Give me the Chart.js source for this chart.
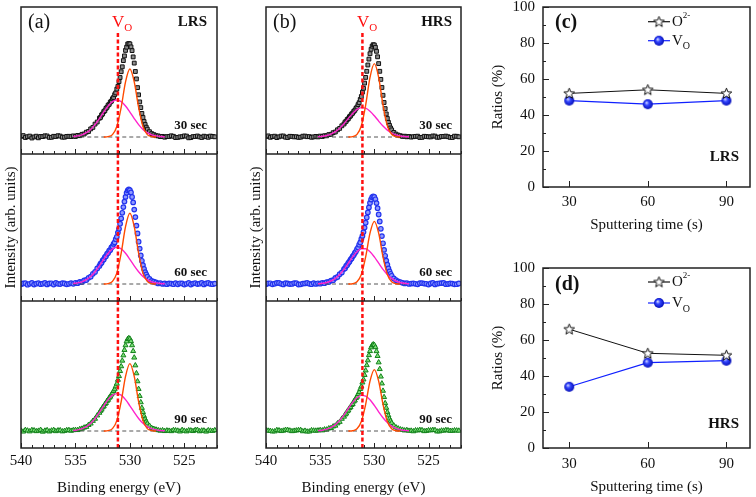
<!DOCTYPE html>
<html>
<head>
<meta charset="utf-8">
<script src="https://cdn.jsdelivr.net/npm/chart.js@4.4.1/dist/chart.umd.min.js"></script>
<style>
  html, body { margin: 0; padding: 0; background: #fff; }
  body { position: relative; width: 756px; height: 497px; overflow: hidden; }
  canvas { position: absolute; }
</style>
</head>
<body>
<canvas id="a1" width="230" height="154" style="left:0px;top:0px"></canvas>
<canvas id="a2" width="230" height="147" style="left:0px;top:154px"></canvas>
<canvas id="a3" width="230" height="196" style="left:0px;top:301px"></canvas>
<canvas id="b1" width="230" height="154" style="left:245px;top:0px"></canvas>
<canvas id="b2" width="230" height="147" style="left:245px;top:154px"></canvas>
<canvas id="b3" width="230" height="196" style="left:245px;top:301px"></canvas>
<canvas id="c" width="276" height="234" style="left:480px;top:0px"></canvas>
<canvas id="d" width="276" height="235" style="left:480px;top:261px"></canvas>
<script>
// O 1s spectra, energies in eV (x grid shared by all six spectra)
const bindingEnergy = [
  540, 539.8, 539.6, 539.4, 539.2, 539, 538.8, 538.6, 538.4, 538.2, 538, 537.8,
  537.6, 537.4, 537.2, 537, 536.8, 536.6, 536.4, 536.2, 536, 535.8, 535.6,
  535.4, 535.2, 535, 534.8, 534.6, 534.4, 534.2, 534, 533.8, 533.6, 533.4, 533.2, 533,
  532.8, 532.7, 532.6, 532.5, 532.4, 532.3, 532.2, 532.1, 532, 531.9,
  531.8, 531.7, 531.6, 531.5, 531.4, 531.3, 531.2, 531.1, 531, 530.9,
  530.8, 530.7, 530.6, 530.5, 530.4, 530.3, 530.2, 530.1, 530, 529.9,
  529.8, 529.7, 529.6, 529.5, 529.4, 529.3, 529.2, 529.1, 529, 528.9,
  528.8, 528.7, 528.6, 528.5, 528.4,
  528.2, 528, 527.8, 527.6, 527.4, 527.2, 527, 526.8, 526.6,
  526.4, 526.2, 526, 525.8, 525.6, 525.4, 525.2, 525, 524.8, 524.6, 524.4,
  524.2, 524, 523.8, 523.6, 523.4, 523.2, 523, 522.8, 522.6, 522.4, 522.2
];
const voEnergy = 531.1;
const backgroundRange = [535.2, 526.8];
const energyTicks = [540, 535, 530, 525];

const lrs30 = [
  0.6, 1.4, -0.5, 0.3, 0.9, -1.0, 0.1, 0.8, -0.8, 0.5, 0.4, 1.2,
  1.0, -0.4, -0.3, 0.7, 0.5, 1.3, 0.9, -0.2, -0.2, 0.6, 0.7,
  0.4, 1.1, 0.5, 1.6, 1.3, 2.7, 3.0, 4.8, 5.5, 8.1, 9.6, 12.9, 15.0,
  18.8, 19.6, 22.0, 23.1, 25.4, 26.3, 28.6, 29.7, 31.8, 32.7,
  34.9, 35.8, 38.2, 39.5, 42.3, 44.1, 47.9, 50.7, 55.4, 59.5,
  65.3, 70.2, 76.4, 81.1, 86.6, 89.8, 93.0, 93.4, 93.1, 90.1,
  86.4, 80.1, 73.9, 65.5, 58.1, 49.4, 42.2, 35.1, 29.4, 23.6,
  19.5, 15.5, 12.5, 9.8, 7.8,
  5.3, 3.4, 2.4, 1.3, 1.1, 0.4, 0.6, -0.2, 0.4,
  0.5, 1.2, 0.7, -0.6, -0.4, 0.2, 0.3, 1.1, 0.9, -0.8, -0.6,
  0.4, 0.5, 1.0, 0.1, -0.5, 0.8, 0.3, -0.3, 0.9, 0.6, 0.2
];
const lrs60 = [
  -0.3, 0.5, 0.8, -0.7, 0.2, 1.1, -0.6, 0.3, 0.9, -0.2, 0.3, 1.0,
  -0.4, 0.6, 0.7, -0.5, 1.1, 0.2, -0.1, 0.9, 0.5, -0.3, 0.2,
  0.9, 0.2, 1.2, 0.8, 2.0, 1.9, 3.5, 4.0, 6.2, 7.3, 10.2, 12.1, 15.6,
  18.1, 20.3, 21.2, 23.7, 24.6, 26.9, 27.8, 30.2, 31.0, 33.3,
  34.1, 36.5, 37.5, 40.1, 41.6, 44.8, 47.2, 51.4, 55.2, 60.3,
  65.6, 71.2, 76.9, 82.4, 87.1, 91.2, 93.6, 94.6, 93.9, 91.6,
  87.0, 81.6, 74.4, 66.9, 58.4, 50.6, 42.3, 35.4, 28.5, 23.2,
  18.9, 15.0, 11.9, 9.5, 7.4,
  5.0, 3.1, 2.3, 1.5, 0.6, 0.9, 0.1, 0.5, -0.2,
  0.6, 0.4, -0.2, 0.9, -0.3, 0.7, 0.5, -0.6, 0.2, 1.0, -0.5,
  0.4, 0.8, -0.1, 0.3, 1.1, -0.4, 0.6, 1.0, 0.1, -0.2, 0.4
];
const lrs90 = [
  0.3, -0.6, 1.0, 0.4, -0.4, 0.9, 0.6, -0.2, 0.2, 1.1, -0.7, 0.3,
  0.8, -0.5, 0.4, 1.0, -0.2, 0.6, 0.7, -0.4, 0.1, 0.8, 0.9,
  0.2, 0.8, 1.0, 0.9, 1.9, 2.3, 3.4, 4.1, 6.0, 7.4, 10.1, 12.2, 15.5,
  18.2, 20.2, 21.4, 23.6, 24.7, 26.8, 28.0, 30.1, 31.2, 33.2,
  34.3, 36.4, 37.7, 40.0, 41.7, 44.6, 47.3, 51.2, 54.9, 59.9,
  64.7, 70.3, 75.6, 81.0, 85.7, 89.6, 92.0, 92.8, 92.2, 89.8,
  85.7, 79.9, 73.4, 65.6, 57.7, 49.7, 42.0, 35.0, 28.7, 23.1,
  18.9, 15.0, 12.0, 9.4, 7.5,
  5.2, 3.0, 2.1, 1.4, 0.8, 0.3, 0.7, -0.1, 0.5,
  0.2, -0.2, 0.9, 0.6, 0.3, -0.5, 1.0, 0.2, -0.4, 0.7, 0.5,
  -0.1, 0.9, 1.1, -0.3, 0.4, 0.4, -0.6, 0.7, 0.3, 0.1, 0.8
];
const hrs30 = [
  0.5, 1.1, -0.3, 0.4, 0.8, -0.6, 0.2, 0.9, 1.0, -0.2, -0.5, 0.7,
  0.6, 0.1, 0.3, -0.4, -0.2, 0.8, 0.9, 0.3, 0.4, -0.3, 0.1,
  0.6, 0.1, 0.9, 0.5, 1.3, 1.2, 2.4, 2.7, 4.3, 5.0, 7.2, 8.6, 11.2,
  13.0, 14.9, 15.7, 17.5, 18.3, 20.2, 21.1, 22.9, 23.8, 25.6,
  26.7, 28.6, 30.0, 32.4, 34.3, 37.5, 40.5, 44.8, 48.7, 53.9,
  59.6, 65.7, 72.0, 77.9, 83.3, 87.7, 90.8, 92.3, 92.0, 89.7,
  85.7, 80.2, 73.4, 65.7, 57.6, 49.5, 41.7, 34.5, 28.4, 23.1,
  18.5, 14.6, 11.6, 9.0, 7.1,
  4.6, 2.9, 1.9, 1.3, 0.6, 0.8, 0.2, 0.5, -0.1,
  0.3, 0.6, 0.8, -0.5, -0.4, 0.7, 0.5, 0.2, 0.1, 1.0, 0.9,
  -0.3, -0.2, 0.5, 0.6, 0.9, 0.3, -0.4, -0.5, 0.8, 0.7, 0.2
];
const hrs60 = [
  -0.2, 0.6, 0.7, -0.3, 0.3, 1.1, 1.0, 0.2, -0.4, 0.8, 0.5, -0.1,
  0.1, 0.9, 0.8, -0.5, -0.3, 0.4, 0.6, 1.0, 0.2, -0.2, 0.9,
  0.1, 0.7, 0.3, 1.1, 0.8, 1.9, 2.0, 3.4, 3.8, 6.0, 7.0, 9.8, 11.6,
  14.9, 15.8, 18.0, 19.0, 21.1, 22.3, 24.4, 25.5, 27.7, 28.9,
  31.1, 32.4, 34.8, 36.4, 39.3, 41.5, 45.1, 48.1, 51.9, 56.4,
  61.3, 66.5, 71.6, 76.6, 81.0, 84.5, 86.8, 87.7, 87.1, 84.7,
  80.9, 75.8, 69.5, 62.5, 55.2, 47.9, 40.7, 34.1, 28.2, 23.4,
  19.3, 15.6, 12.6, 10.2, 8.2,
  5.6, 3.8, 2.6, 1.9, 1.2, 0.6, 0.8, 0.1, 0.4,
  0.6, 0.2, -0.3, 0.8, 0.9, 0.4, 0.2, -0.6, 0.5, 1.1, -0.4,
  0.3, 0.7, 0.9, 1.0, -0.2, 0.0, 0.6, 0.4, -0.3, -0.2, 0.5
];
const hrs90 = [
  0.8, 0.3, 0.1, -0.5, -0.4, 0.9, 0.6, -0.1, 0.3, 1.1, 1.0, 0.4,
  -0.2, 0.2, 0.5, 0.9, 0.9, -0.3, 0.2, -0.6, -0.5, 0.7, 0.4,
  0.3, 0.5, 0.9, 0.6, 1.5, 1.4, 2.6, 2.9, 4.5, 5.3, 7.6, 9.1, 12.2,
  14.3, 16.4, 17.4, 19.6, 20.5, 22.8, 23.8, 26.0, 27.0, 29.4,
  30.5, 32.9, 34.2, 36.9, 38.8, 42.0, 44.5, 48.5, 51.5, 56.0,
  60.5, 65.8, 70.6, 75.8, 79.9, 83.6, 85.7, 86.6, 86.0, 83.8,
  79.8, 75.0, 68.6, 61.9, 54.4, 47.5, 40.2, 33.9, 27.8, 23.2,
  18.9, 15.5, 12.4, 10.1, 8.0,
  5.4, 3.6, 2.5, 1.6, 1.2, 0.5, 0.9, 0.2, 0.3,
  -0.3, 0.6, 0.5, 1.0, 0.8, -0.2, 0.1, 0.7, 0.6, 1.0, 0.9,
  -0.5, -0.4, 0.4, 0.3, 0.9, 0.7, 0.1, 0.2, 0.6, 0.5, 0.3
];

// fitted components: V_O (pink) and lattice O2- (orange)
const pinkEnergy = [535.2, 534.8, 534.4, 534, 533.6, 533.2, 532.8, 532.4, 532, 531.6, 531.2,
  530.8, 530.4, 530, 529.6, 529.2, 528.8, 528.4, 528, 527.6, 527.2, 526.8];
const lrsPink30 = [0.5, 1.1, 2.2, 4.3, 7.6, 12.4, 18.4, 24.9, 31.0, 35.4, 37.0, 35.4, 31.0, 24.9, 18.4, 12.4, 7.6, 4.3, 2.2, 1.1, 0.5, 0.2];
const lrsPink60 = [0.5, 1.1, 2.2, 4.3, 7.6, 12.3, 18.2, 24.7, 30.8, 35.1, 36.7, 35.1, 30.8, 24.7, 18.2, 12.3, 7.6, 4.3, 2.2, 1.1, 0.5, 0.2];
const lrsPink90 = [0.5, 1.1, 2.3, 4.3, 7.7, 12.5, 18.6, 25.2, 31.4, 35.8, 37.4, 35.8, 31.4, 25.2, 18.6, 12.5, 7.7, 4.3, 2.3, 1.1, 0.5, 0.2];
const hrsPink30 = [0.3, 0.7, 1.5, 2.9, 5.3, 8.8, 13.3, 18.6, 23.6, 27.6, 29.4, 28.8, 25.8, 21.2, 15.9, 10.9, 6.9, 4.0, 2.1, 1.0, 0.5, 0.2];
const hrsPink60 = [0.3, 0.7, 1.5, 3.0, 5.6, 9.4, 14.6, 20.8, 27.1, 32.3, 35.2, 35.2, 32.3, 27.1, 20.8, 14.6, 9.4, 5.6, 3.0, 1.5, 0.7, 0.3];
const hrsPink90 = [0.4, 0.8, 1.8, 3.6, 6.4, 10.6, 16.1, 22.5, 28.6, 33.3, 35.6, 34.8, 31.2, 25.6, 19.2, 13.2, 8.4, 4.8, 2.6, 1.2, 0.6, 0.2];

const orangeEnergy = [532.4, 532, 531.6, 531.2, 530.8, 530.4, 530, 529.6, 529.2, 528.8, 528.4, 528, 527.6];
const lrsOrange30 = [0.0, 0.4, 2.4, 10.5, 29.6, 55.2, 68.0, 55.2, 29.6, 10.5, 2.4, 0.4, 0.0];
const lrsOrange60 = [0.0, 0.4, 2.6, 10.9, 30.8, 57.4, 70.7, 57.4, 30.8, 10.9, 2.6, 0.4, 0.0];
const lrsOrange90 = [0.0, 0.4, 2.4, 10.4, 29.3, 54.7, 67.4, 54.7, 29.3, 10.4, 2.4, 0.4, 0.0];
const hrsOrange30 = [0.0, 0.4, 2.6, 11.3, 31.9, 59.6, 73.4, 59.6, 31.9, 11.3, 2.6, 0.4, 0.0];
const hrsOrange60 = [0.0, 0.3, 2.3, 9.6, 27.2, 50.8, 62.6, 50.8, 27.2, 9.6, 2.3, 0.3, 0.0];
const hrsOrange90 = [0.0, 0.3, 2.2, 9.5, 26.7, 49.9, 61.4, 49.9, 26.7, 9.5, 2.2, 0.3, 0.0];

// ratio panels
const sputterTime = [30, 60, 90];
const lrsO2 = [52, 54, 52];
const lrsVo = [48, 46, 48];
const hrsO2 = [66, 52.6, 51.5];
const hrsVo = [34, 47.4, 48.5];
const ratioTicks = [0, 20, 40, 60, 80, 100];
const timeTicks = [30, 60, 90];

const SERIF = "'Liberation Serif', 'Times New Roman', serif";
const f = s => s + ' ' + SERIF;
Chart.defaults.font.family = SERIF;
Chart.defaults.color = '#111';

const Y_MIN = -17, Y_MAX = 130;

// frame with inward ticks
function frame(cfg) {
  return {
    id: 'frame',
    afterDatasetsDraw(chart) {
      const {ctx, chartArea: a, scales} = chart;
      ctx.save();
      ctx.strokeStyle = '#222';
      ctx.lineWidth = 1;
      ctx.beginPath();
      if (cfg.x) {
        const s = scales.x;
        for (let v = Math.ceil(s.min / cfg.x.step) * cfg.x.step; v <= s.max; v += cfg.x.step) {
          const len = Math.abs(v % cfg.x.major) < 1e-6 ? cfg.x.long : cfg.x.short;
          const px = Math.round(s.getPixelForValue(v)) + 0.5;
          ctx.moveTo(px, a.bottom);
          ctx.lineTo(px, a.bottom - len);
        }
      }
      if (cfg.y) {
        const s = scales.y;
        for (let v = s.min; v <= s.max; v += cfg.y.step) {
          const len = Math.abs(v % cfg.y.major) < 1e-6 ? cfg.y.long : cfg.y.short;
          const py = Math.round(s.getPixelForValue(v)) + 0.5;
          ctx.moveTo(a.left, py);
          ctx.lineTo(a.left + len, py);
        }
      }
      ctx.stroke();
      ctx.lineWidth = 1.5;
      ctx.strokeRect(a.left, a.top, a.right - a.left, a.bottom - a.top);
      ctx.restore();
    }
  };
}

// text labels with optional sub/superscript parts
function notes(items) {
  return {
    id: 'notes',
    afterDraw(chart) {
      const {ctx, chartArea: a} = chart;
      items.forEach(it => {
        const parts = it.parts || [[it.t, it.font, 0]];
        ctx.save();
        ctx.fillStyle = it.color || '#111';
        ctx.textBaseline = 'middle';
        const widths = parts.map(p => { ctx.font = p[1]; return ctx.measureText(p[0]).width; });
        const total = widths.reduce((s, w) => s + w, 0);
        let x = a.left + it.x - (it.align === 'right' ? total : 0);
        parts.forEach((p, i) => {
          ctx.font = p[1];
          ctx.fillText(p[0], x, a.top + it.y + (p[2] || 0));
          x += widths[i];
        });
        ctx.restore();
      });
    }
  };
}

function spectrum(id, pad, counts, pink, orange, mk, opt) {
  const marks = [{t: opt.time + ' sec', font: f('bold 13px'), x: 186, y: 119, align: 'right'}];
  if (opt.letter) {
    marks.push({t: opt.letter, font: f('20px'), x: 7, y: 16});
    marks.push({t: opt.state, font: f('bold 15px'), x: 186, y: 15, align: 'right'});
    marks.push({parts: [['V', f('17px'), 0], ['O', f('11px'), 6]], color: '#ff1010', x: 91, y: 15.5});
  }
  new Chart(document.getElementById(id), {
    type: 'scatter',
    data: {
      datasets: [
        {data: [{x: voEnergy, y: Y_MIN}, {x: voEnergy, y: opt.voTop}], showLine: true,
         borderColor: '#ff1010', borderWidth: 2.5, borderDash: [4, 2.5], pointRadius: 0},
        {data: orangeEnergy.map((x, i) => ({x, y: orange[i]})), showLine: true,
         borderColor: '#ff4a00', borderWidth: 1.4, pointRadius: 0, cubicInterpolationMode: 'monotone'},
        {data: pinkEnergy.map((x, i) => ({x, y: pink[i]})), showLine: true,
         borderColor: '#ff22cc', borderWidth: 1.4, pointRadius: 0, cubicInterpolationMode: 'monotone'},
        {data: backgroundRange.map(x => ({x, y: 0})), showLine: true,
         borderColor: '#555', borderWidth: 1, borderDash: [4, 3], pointRadius: 0},
        {data: bindingEnergy.map((x, i) => ({x, y: counts[i]})), showLine: false,
         pointStyle: mk.style, pointRadius: mk.r, borderWidth: mk.bw, borderColor: mk.edge, backgroundColor: mk.fill}
      ]
    },
    options: {
      responsive: false,
      animation: false,
      events: [],
      layout: {padding: pad, autoPadding: false},
      plugins: {legend: {display: false}, tooltip: {enabled: false}},
      scales: {
        x: {
          type: 'linear', reverse: true, min: 522, max: 540, display: !!opt.showX,
          afterBuildTicks: s => { s.ticks = energyTicks.map(v => ({value: v})); },
          afterFit: s => { s.height = opt.showX ? 49 : 0; s.paddingLeft = 0; s.paddingRight = 0; },
          grid: {display: false, drawTicks: false},
          border: {display: false},
          ticks: {font: {size: 15}, padding: 4, maxRotation: 0, autoSkip: false},
          title: {display: true, text: 'Binding energy (eV)', font: {size: 15}, padding: {top: 0, bottom: 0}}
        },
        y: {
          min: Y_MIN, max: Y_MAX, display: !!opt.yTitle,
          afterFit: s => { s.width = opt.yTitle ? 21 : 0; s.paddingTop = 0; s.paddingBottom = 0; },
          grid: {display: false, drawTicks: false},
          border: {display: false},
          ticks: {display: false},
          title: {display: true, text: 'Intensity (arb. units)', font: {size: 15}, padding: {top: 2, bottom: 0}}
        }
      }
    },
    plugins: [frame({x: {step: 1, major: 5, short: 3, long: 5}}), notes(marks)]
  });
}

const squares = {style: 'rect', r: 2.7, bw: 1, edge: '#111', fill: '#8c8c8c'};
const circles = {style: 'circle', r: 2.3, bw: 1.2, edge: '#2233ee', fill: '#8f9aff'};
const triangles = {style: 'triangle', r: 2.9, bw: 1, edge: '#12801a', fill: '#7ce078'};

const topPad = {left: 21, top: 7, right: 13, bottom: 0};
const midPad = {left: 0, top: 0, right: 13, bottom: 0};
const botPad = {left: 21, top: 0, right: 13, bottom: 0};
const topPadB = {left: 21, top: 7, right: 14, bottom: 0};
const midPadB = {left: 0, top: 0, right: 14, bottom: 0};
const botPadB = {left: 21, top: 0, right: 14, bottom: 0};

spectrum('a1', topPad, lrs30, lrsPink30, lrsOrange30, squares, {time: 30, letter: '(a)', state: 'LRS', voTop: 105});
spectrum('a2', midPad, lrs60, lrsPink60, lrsOrange60, circles, {time: 60, yTitle: true, voTop: Y_MAX});
spectrum('a3', botPad, lrs90, lrsPink90, lrsOrange90, triangles, {time: 90, showX: true, voTop: Y_MAX});
spectrum('b1', topPadB, hrs30, hrsPink30, hrsOrange30, squares, {time: 30, letter: '(b)', state: 'HRS', voTop: 105});
spectrum('b2', midPadB, hrs60, hrsPink60, hrsOrange60, circles, {time: 60, yTitle: true, voTop: Y_MAX});
spectrum('b3', botPadB, hrs90, hrsPink90, hrsOrange90, triangles, {time: 90, showX: true, voTop: Y_MAX});

// marker images for the ratio panels
function starImage() {
  const c = document.createElement('canvas');
  c.width = c.height = 13;
  const g = c.getContext('2d');
  const R = 5.6, r = 2.4, cx = 6.5, cy = 6.8;
  g.beginPath();
  for (let i = 0; i < 10; i++) {
    const ang = -Math.PI / 2 + i * Math.PI / 5;
    const rr = i % 2 ? r : R;
    g.lineTo(cx + rr * Math.cos(ang), cy + rr * Math.sin(ang));
  }
  g.closePath();
  g.fillStyle = '#fff';
  g.fill();
  g.strokeStyle = '#111';
  g.lineWidth = 1;
  g.stroke();
  return c;
}
function ballImage() {
  const c = document.createElement('canvas');
  c.width = c.height = 12;
  const g = c.getContext('2d');
  const grd = g.createRadialGradient(4.6, 4.4, 0.4, 6, 6, 5.4);
  grd.addColorStop(0, '#c8ceff');
  grd.addColorStop(0.35, '#3346ff');
  grd.addColorStop(1, '#0008b0');
  g.fillStyle = grd;
  g.beginPath();
  g.arc(6, 6, 5, 0, Math.PI * 2);
  g.fill();
  return c;
}
const star = starImage();
const ball = ballImage();

function keys(rows) {
  return {
    id: 'keys',
    afterDraw(chart) {
      const {ctx, chartArea: a} = chart;
      rows.forEach(k => {
        const y = a.top + k.y;
        ctx.save();
        ctx.strokeStyle = k.color;
        ctx.lineWidth = 1.2;
        ctx.beginPath();
        ctx.moveTo(a.left + 105, y);
        ctx.lineTo(a.left + 127, y);
        ctx.stroke();
        ctx.drawImage(k.img, a.left + 116 - k.img.width / 2, y - k.img.height / 2);
        ctx.restore();
      });
    }
  };
}

function ratioChart(id, o2, vo, letter, state, stateY, letterY, keyY) {
  new Chart(document.getElementById(id), {
    type: 'scatter',
    data: {
      datasets: [
        {label: 'O2-', data: sputterTime.map((x, i) => ({x, y: o2[i]})), showLine: true,
         borderColor: '#111', borderWidth: 1, pointStyle: star, pointRadius: 6},
        {label: 'Vo', data: sputterTime.map((x, i) => ({x, y: vo[i]})), showLine: true,
         borderColor: '#1020ff', borderWidth: 1.2, pointStyle: ball, pointRadius: 6}
      ]
    },
    options: {
      responsive: false,
      animation: false,
      events: [],
      layout: {padding: {left: 0, top: 7, right: 6, bottom: 0}, autoPadding: false},
      plugins: {legend: {display: false}, tooltip: {enabled: false}},
      scales: {
        x: {
          type: 'linear', min: 20, max: 99,
          afterBuildTicks: s => { s.ticks = timeTicks.map(v => ({value: v})); },
          afterFit: s => { s.height = id === 'c' ? 47 : 48; s.paddingLeft = 0; s.paddingRight = 0; },
          grid: {display: false, drawTicks: false},
          border: {display: false},
          ticks: {font: {size: 15}, padding: id === 'c' ? 6 : 7, maxRotation: 0, autoSkip: false},
          title: {display: true, text: 'Sputtering time (s)', font: {size: 15}, padding: {top: 0, bottom: 0}}
        },
        y: {
          min: 0, max: 100,
          afterBuildTicks: s => { s.ticks = ratioTicks.map(v => ({value: v})); },
          afterFit: s => { s.width = 63; s.paddingTop = 0; s.paddingBottom = 0; },
          grid: {display: false, drawTicks: false},
          border: {display: false},
          ticks: {font: {size: 15}, padding: 8},
          title: {display: true, text: 'Ratios (%)', font: {size: 15}, padding: {top: 9, bottom: 0}}
        }
      }
    },
    plugins: [
      frame({x: {step: 30, major: 30, short: 6, long: 6}, y: {step: 10, major: 20, short: 3, long: 6}}),
      keys([{img: star, color: '#111', y: keyY[0]}, {img: ball, color: '#1020ff', y: keyY[1]}]),
      notes([
        {t: letter, font: f('bold 20px'), x: 12, y: letterY},
        {t: state, font: f('bold 15px'), x: 196, y: stateY, align: 'right'},
        {parts: [['O', f('15px'), 0], ['2-', f('9px'), -6]], x: 129, y: keyY[0]},
        {parts: [['V', f('15px'), 0], ['O', f('10px'), 6]], x: 129, y: keyY[1]}
      ])
    ]
  });
}

ratioChart('c', lrsO2, lrsVo, '(c)', 'LRS', 150.5, 16, [14.7, 33.7]);
ratioChart('d', hrsO2, hrsVo, '(d)', 'HRS', 156, 17, [14, 35]);
</script>
</body>
</html>
